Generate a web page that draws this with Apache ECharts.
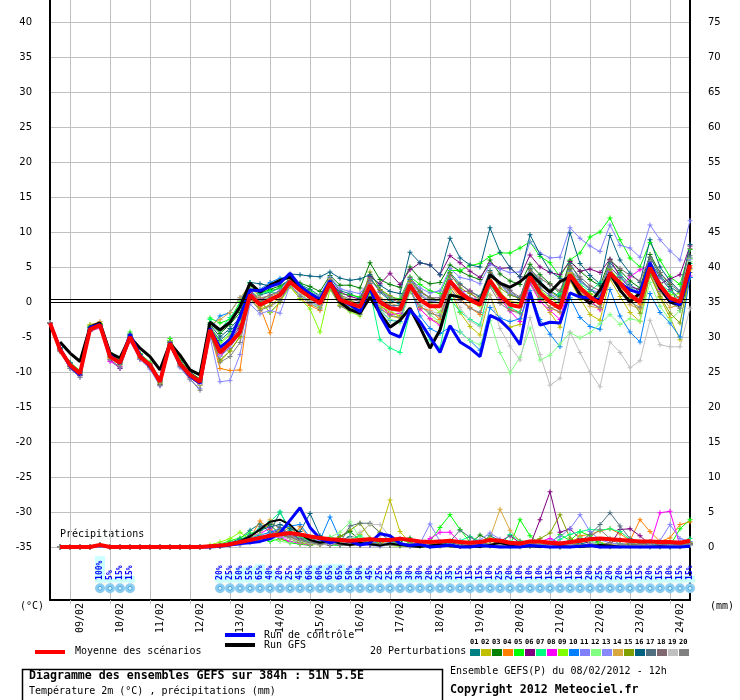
<!DOCTYPE html>
<html>
<head>
<meta charset="utf-8">
<script src="https://cdn.jsdelivr.net/npm/echarts@6/dist/echarts.min.js"></script>
<style>
  html, body { margin: 0; padding: 0; background: #fff; }
  #main { width: 740px; height: 700px; }
</style>
</head>
<body>
<div id="main"></div>
<script>
// day labels, one per day (slot 2 = 09/02 00h, run starts 08/02 12h)
const dayLabels = ["09/02", "10/02", "11/02", "12/02", "13/02", "14/02", "15/02", "16/02",
  "17/02", "18/02", "19/02", "20/02", "21/02", "22/02", "23/02", "24/02"];
const tempTicks = [-35, -30, -25, -20, -15, -10, -5, 0, 5, 10, 15, 20, 25, 30, 35, 40];
const precipTicks = [0, 5, 10, 15, 20, 25, 30, 35, 40, 45, 50, 55, 60, 65, 70, 75];

const memberColors = ["#008080", "#c0c000", "#008000", "#ff8000", "#00ff00", "#800080", "#00ff80",
  "#ff00ff", "#80ff00", "#0080ff", "#8080ff", "#80ff80", "#8888ff", "#d8a840", "#80a000",
  "#006080", "#507080", "#806870", "#c0c0c0", "#808080"];

// 2m temperature, every 6h
const tempMean = [-3, -6.8, -9, -10.2, -3.9, -3.3, -7.8, -8.7, -5, -7.8, -9, -11.4, -5.9, -8.8, -10.4, -11.4,
  -4, -7.2, -5.9, -4.3, 1, -0.4, 0.3, 1, 2.9, 1.7, 0.7, -0.2, 2.7, 0.3, -0.2, -0.7,
  2.4, 0, -0.9, -1.1, 2.4, 0.3, -0.6, -0.6, 3, 1.3, 0.3, -0.4, 3.1, 1, -0.4, -0.7,
  3.6, 1.3, 0, -0.9, 3.9, 2, 0.7, -0.2, 4.1, 2.7, 1, 0, 4.9, 2.4, 0.6, 0, 5.3];
const tempControl = [-3, -6.6, -9.2, -10.4, -3.6, -3.2, -7.6, -8.8, -4.6, -7.6, -9.2, -11.2, -5.8, -8.9, -10.6, -11.6,
  -3.8, -6.5, -5.4, -2.1, 1.7, 1.6, 2.2, 2.7, 4.1, 2.3, 1.2, 0.4, 3, 0.5, -0.4, -1.4,
  2, -1.9, -4.4, -5, -1.1, -2.8, -5, -7.2, -3.4, -5.7, -6.6, -7.8, -1.9, -2.6, -4, -6.1,
  1.4, -3.3, -2.9, -3, 1.3, 0.7, 0.6, 0.3, 4.1, 2.7, 1.7, 1.3, 5.6, 2.4, 0.3, -0.4, 4.3];
const tempGfs = [null, -5.7, -7.3, -8.5, -3.6, -3, -7.3, -8, -5, -6.6, -7.8, -9.7, -5.9, -7.6, -9.7, -10.4,
  -2.9, -4, -2.9, -0.7, 2.7, 1.4, 2.4, 3.1, 3.6, 2, 0.7, 0.3, 2.7, 0, -1.1, -1.6,
  0.7, -1.6, -3.6, -2.6, -0.9, -3.6, -6.6, -4, 1, 0.7, 0.3, 0, 3.9, 2.7, 2.1, 2.9,
  4.1, 2.7, 1.4, 2.9, 3.6, 1, -0.2, 1.7, 4.1, 1.7, 0, 1.3, 5, 2, 0, -0.4, 5.7];

const tempP01 = [-3, -6.5, -8.7, -10, -3.6, -3.5, -7.5, -8.9, -4.8, -7.6, -9.2, -11.2, -5.6, -8.6, -10.1, -11.1,
  -3.5, -5.5, -4.2, -2.6, 2.2, 1, 1.4, 2, 3.4, 2.5, 1.8, 0.9, 3.5, 1.6, 1.2, 0.5,
  3.6, 1.4, 0.2, -0.3, 3.2, 1.5, 0.6, 0.2, 4.2, 2.6, 1.5, 0.8, 4.5, 2.6, 1, 0.6,
  4.8, 3, 1.6, 0.8, 5.5, 3.2, 1.8, 0.9, 5.6, 4, 2.5, 1.4, 6.4, 3.8, 2.2, 1.2, 6.3];
const tempP02 = [-3, -7, -9.3, -10.5, -3.2, -3, -8, -9, -5.2, -8, -9.3, -11.6, -6.2, -9, -10.6, -11.8,
  -4.5, -8.5, -7, -5, 0.5, -1, -0.5, 0.6, 2.5, 1, 0.2, -0.8, 2.2, -0.3, -1, -1.6,
  1.8, -0.8, -2, -2.3, 1.6, -1, -2.4, -3, 1.8, -1.5, -3.5, -4.7, 1, -2.6, -3.6, -3.2,
  2.8, 0.2, -1.5, -3.6, 3, 0.5, -1.8, -2.6, 3.3, 0.8, -1.5, -2.8, 4, 0.6, -2.2, -5.4, 4.6];
const tempP03 = [-3, -6.6, -8.8, -10.4, -3.7, -3.4, -7.4, -8.3, -4.6, -7.4, -9.1, -11.8, -5.5, -8.4, -10, -11,
  -3, -4.5, -3.2, -1.5, 2.3, 1.2, 1.8, 2.3, 3.2, 2.7, 2.2, 1.5, 3.8, 2.4, 2.4, 2,
  5.6, 3.2, 2.5, 2.1, 5, 3.3, 2.6, 2.8, 5.3, 4.4, 3.7, 3.2, 6, 4, 3, 2.5,
  5.4, 3.9, 2.6, 1.2, 5.9, 4.4, 3.2, 2.3, 6.1, 4.5, 3, 2, 6.8, 4.2, 2.5, -1.2, 3.5];
const tempP04 = [-3, -7, -9.1, -10.2, -4.1, -3.6, -8, -8.8, -5.1, -7.9, -8.8, -11.2, -6, -8.9, -10.7, -11.6,
  -4.2, -9.5, -9.8, -9.7, 0.6, -0.7, -4.4, 0.7, 2.2, 0.5, -0.5, -1.2, 2, -0.5, -0.8, -1.3,
  1.9, -0.6, -1.5, -2, 1.5, -0.8, -1.2, -2.5, 2.5, 0.5, -0.8, -1.8, 2.6, 0.3, -1.1, -1.5,
  3.3, 0.8, -0.8, -1.5, 3.6, 1.5, 0.2, -1, 3.6, 2.2, 0.6, -0.4, 4.5, 2.2, 0.2, 0.8, 4.9];
const tempP05 = [-3, -6.6, -8.6, -9.8, -3.4, -3.1, -7.2, -8.5, -4.3, -7.4, -8.6, -11, -5.2, -8.2, -10.2, -11.2,
  -2.3, -3, -2.5, 0, 2.6, 1.5, 1.6, 2, 3.1, 2.4, 1.5, 0.8, 3, 1.2, 1, 0.7,
  3.3, 1.8, 0.6, 0.5, 3.6, 2.5, 1.6, 1.2, 4.5, 4.5, 5.2, 5.5, 6.5, 7, 7, 7.7,
  8.6, 6.5, 5.6, 3.6, 6, 7, 9.3, 10, 12, 8.9, 6.3, 5, 8.5, 6, 3.6, 2.5, 7.5];
const tempP06 = [-3, -6.9, -9.2, -10.5, -4, -3.5, -8.3, -9.5, -5.3, -7.7, -9.2, -11.5, -6, -8.7, -10.2, -11.5,
  -4.1, -7.6, -6.5, -3.8, 1.4, 0.2, -1.5, 0, 3, 1.9, 1, 0.3, 3, 1.4, 0.8, 0.4,
  3.6, 2.6, 4.1, 2.5, 4.6, 5.6, 5.3, 3.9, 6.6, 5.6, 4.4, 3.5, 5.5, 4.8, 4.9, 3.6,
  6.7, 5, 4.2, 3.9, 5.8, 4.4, 4.7, 4.2, 6.1, 3.6, 2.2, 1.8, 5.1, 2.6, 3.3, 3.9, 8];
const tempP07 = [-3, -6.7, -8.9, -10, -3.5, -3.2, -7.6, -8.6, -4.9, -7.6, -8.9, -11.1, -5.7, -8.5, -10.2, -11.2,
  -2.5, -4, -2.2, -0.5, 2.8, 1.2, 1.5, 1.2, 3.5, 2.2, 1, 0.2, 2.4, 0.2, -0.6, -1.2,
  1.5, -5.4, -6.6, -7.2, -1.5, -3, -5.4, -6.6, 0.5, -1.4, -2.5, -3.3, 2.4, 0.6, -0.8, -1.5,
  3.9, 0.5, 0.4, 1.2, 4.3, 2.6, 1.5, 2.8, 3.4, 3.8, 2, 1, 4, 2.6, 1.5, 0.4, 5.5];
const tempP08 = [-3, -6.9, -9, -10.3, -4.2, -3.7, -8.5, -9.2, -5.6, -8.2, -9.4, -11.9, -6.4, -9.1, -10.8, -11.8,
  -4.5, -7.5, -5.5, -3.5, 1.3, 0.5, 0.4, 0.9, 2.6, 1.6, 0.8, 0.5, 2.5, 0.2, -0.5, -1.4,
  2, -0.5, -1.8, -1.6, 1.9, -1, -2.4, -3.3, 2.6, 1.4, 1.6, -0.3, 2.8, 0.6, -1.3, -2.8,
  2.6, 0.1, -1.2, -2.5, 3.1, 1.9, 0.3, -1.1, 4.4, 2.1, 3.6, 4.6, 5.2, 1.8, 0.4, 0.1, 3.7];
const tempP09 = [-3, -6.6, -8.8, -10.2, -3.3, -3.1, -7.9, -8.9, -5.1, -7.8, -9.3, -11.5, -5.5, -8.6, -10.4, -11.5,
  -3.4, -5.8, -4.6, -3.2, 1.8, 0.1, -1.5, 0, 2.2, 0.5, -1, -4.3, 1.8, -0.5, -1.4, -2,
  1.2, -0.6, -1.3, -2, 2, 0.2, -0.3, -1.5, 2.8, 1.1, 0, -0.6, 3.3, 1.4, 0.1, -0.3,
  3.8, 1.7, 0.6, -0.3, 4.1, 2.3, 1.2, 0.6, 4.7, 3, 1.2, 0.4, 5.3, 2.6, 1, 1.2, 6.2];
const tempP10 = [-3, -6.5, -8.7, -10.3, -3.8, -3.4, -7.5, -8.5, -4.7, -7.5, -9.1, -11.3, -5.8, -8.8, -10.5, -11.2,
  -3.8, -2, -1.5, 0.6, 1.6, 1.8, 2.8, 3.4, 3.6, 1.8, 0.7, -0.4, 2.6, 0.5, -0.4, -1.2,
  2, -1.2, -2.6, -2.8, 2.2, -2, -3.8, -4.5, -3.6, -4.3, -5.5, -6.9, -0.8, -2.3, -2.8, -2.4,
  1.6, -2.5, -4.6, -6.4, 0.6, -2.2, -3.5, -3.9, 1.8, -2, -4.3, -5.7, 1.2, -1.5, -3, -5, 3.5];
const tempP11 = [-3, -6.8, -9.1, -10.4, -3.9, -3.4, -7.7, -8.8, -4.9, -7.7, -9, -11.5, -6, -8.7, -10.3, -11.6,
  -4.3, -7.8, -6.5, -4.5, 1.5, 0.6, 0.9, 1.7, 3.5, 2.2, 1.3, 0.9, 3.6, 1.9, 1.5, 1.2,
  3.2, 1.5, 0.7, 0.3, 3.4, 2, 1.3, 1.6, 4.8, 3.5, 3.2, 2.6, 5.4, 4.7, 4.2, 4.3,
  8.6, 7, 6.3, 6.4, 10.6, 9.1, 8, 7.2, 11, 8.1, 7.7, 6.4, 11, 8.9, 7.3, 6, 11.6];
const tempP12 = [-3, -6.8, -9, -10, -3.7, -3.3, -7.6, -8.7, -5, -7.9, -9, -11.3, -5.9, -8.9, -10.5, -11.5,
  -3.8, -6, -4.8, -2.8, 2, 0.4, 0.5, 1, 2.8, 1.3, 0.1, -0.9, 2.2, 0, -0.9, -1.6,
  1.8, -1.1, -2.5, -3, 1.4, -0.5, -1.8, -2.9, 1.6, -4.3, -5.5, -6.1, -2.6, -7.2, -10.1, -7.9,
  -3.7, -8.3, -7.6, -6, -4.4, -5.1, -4.4, -3.1, -1.8, -3.2, -2.4, -2.7, 2.8, -0.6, -2.6, -1.2, 5.8];
const tempP13 = [-3, -7, -9.5, -10.8, -4.1, -3.6, -8.2, -9.4, -5.4, -8.2, -9.6, -12, -6.3, -9.4, -11.1, -12.4,
  -5, -11.4, -11.2, -7.5, -0.3, -1.7, -1.2, -1.6, 2.4, 1, 0, -0.5, 2.4, 0.4, -0.4, -0.8,
  2.6, 0.1, -0.5, -0.9, 2.8, 1.2, 0.2, -0.1, 3.3, 1.8, 0.6, 0.2, 3.6, 2.6, 1.2, 0.5,
  4.2, 2.5, 1.2, 0.4, 4.4, 2.9, 1.8, 1.3, 5, 3.6, 2.2, 1.2, 5.6, 3.5, 1.8, 0.4, 6.1];
const tempP14 = [-3, -6.7, -8.9, -10.1, -3.3, -2.8, -7.3, -8.4, -4.6, -7.6, -8.8, -11.2, -5.7, -8.6, -10.3, -11.3,
  -3.3, -2.5, -1.5, 0.6, 2.4, 0.6, 0.8, 1.4, 3.2, 1.5, 0.6, -0.2, 3.3, 0.6, 0.1, -0.6,
  2.7, 0.6, -0.2, -0.6, 2.6, 0.6, -0.3, -0.3, 3.3, 1.5, 0.6, -0.3, 3.4, 1.2, 0.1, -0.1,
  3.5, 1.6, -1.1, -0.4, 4.2, 1.7, -0.6, -0.9, 3.9, 2, -0.4, -1, 4.5, 1, -0.8, -0.4, 5.2];
const tempP15 = [-3, -6.8, -9, -10.1, -3.6, -3.2, -7.9, -8.8, -5.1, -8, -9.2, -11.6, -6.1, -9, -10.7, -11.9,
  -4.6, -8.3, -7, -4.9, 0.6, -0.6, 0, 1, 2.8, 1.8, 0.6, -0.4, 2.7, 0.8, 0.2, -0.3,
  4.3, 1.8, 0.9, 0.2, 3, 1.4, 0.6, 0.2, 4.1, 2, 1.2, 0.4, 4.2, 2, 1, 0.5,
  4.6, 2.5, 1.5, 0.6, 4.8, 2.2, 1.1, -0.4, 4.6, 2.8, 0.6, -1.6, 3.8, 0.8, -1.6, -3, 4.2];
const tempP16 = [-3, -6.6, -8.7, -10, -3.6, -3.3, -7.4, -8.5, -4.6, -7.5, -8.9, -11.1, -5.7, -8.6, -10.2, -11.3,
  -3.2, -5, -3.8, -2.2, 2.8, 2.6, 2.3, 2.8, 4, 3.9, 3.7, 3.6, 4.3, 3.4, 3.1, 3.3,
  3.9, 2.4, 1.5, 1.2, 7.1, 5.6, 5.3, 3.9, 9.1, 6.3, 5.3, 5, 10.6, 7.1, 4.9, 3.6,
  9.6, 6.8, 4.4, 3.4, 9.9, 5.5, 3.8, 2.6, 9.5, 6, 4.1, 2.8, 8.9, 5, 3, 1.5, 8.2];
const tempP17 = [-3, -6.9, -9.2, -10.4, -4, -3.4, -7.9, -8.9, -5.2, -7.9, -9.1, -11.4, -6, -8.9, -10.5, -11.5,
  -4, -7, -5.5, -3.6, 1.2, 0, 0.6, 1.2, 3, 2, 1, 0.3, 2.9, 0.6, 0, -0.3,
  2.6, 0.4, -0.5, -0.5, 2.4, 0.9, 0.1, 0.3, 3.2, 1.6, 0.6, 0.2, 3.7, 2.6, 1.7, 0.2,
  4, 2, 0.9, 0.1, 4.6, 3.2, 1.8, 0.6, 5, 3.5, 2, 0.7, 5.8, 3.6, 1.8, 0.4, 6.6];
const tempP18 = [-3, -6.8, -9, -10.2, -3.9, -3.3, -7.8, -8.7, -5, -7.7, -8.9, -11.3, -5.8, -8.7, -10.3, -11.3,
  -3.7, -6.6, -5, -3.4, 1.6, 0.3, 1, 1.5, 3, 2, 1.2, 0.4, 3, 1, 0.4, 0.1,
  3.3, 1.6, 0.4, 0, 3.5, 1.6, 0.6, 0.6, 3.8, 2.5, 1.6, 0.6, 4.3, 2.5, 1.6, 0.7,
  4.6, 3.4, 2.5, 1.6, 5.2, 3.6, 2.3, 1.6, 5.9, 4.8, 3.8, 3, 6.4, 4.2, 2.6, 1.4, 7.6];
const tempP19 = [-3, -6.9, -9.1, -10.3, -3.9, -3.4, -7.7, -8.8, -5, -7.8, -9, -11.4, -6, -8.9, -10.6, -11.8,
  -4.2, -7.6, -6.2, -4.5, 0.9, -0.4, 0.3, 0.9, 2.7, 1.5, 0.5, -0.3, 2.6, 0.2, -0.4, -0.9,
  2.2, -0.3, -1.2, -1.4, 2.1, -0.1, -1.3, -1.7, 2.2, -0.8, -2.7, -3.5, 0.9, -3.8, -6.3, -8.3,
  -2.2, -7.5, -11.9, -10.9, -4.3, -7.2, -10, -12.1, -5.7, -7.2, -9.4, -8.4, -2.6, -6.1, -6.4, -6.4, -0.9];
const tempP20 = [-3, -7.1, -9.5, -10.7, -4.2, -3.6, -8.2, -9.3, -5.5, -8.1, -9.4, -11.9, -6.3, -9.2, -11, -12.6,
  -4.6, -8.6, -7.8, -5.8, 0.4, -1.2, -0.6, 0.2, 2.4, 0.8, -0.2, -1, 2, -0.6, -1.2, -1.8,
  1.8, -1, -1.9, -2.2, 1.6, -0.6, -1.6, -2, 2, 0.2, -0.9, -1.5, 2.2, -0.2, -1.2, -1.6,
  2.8, 0.6, -0.8, -1.4, 3.2, 1.2, -0.2, -0.8, 3.5, 1.6, 0, -0.8, 4.2, 1.5, -0.1, -0.9, 4.8];

// precipitation (mm / 6h); first 16 slots are shared, members differ afterwards
const precipEarly = [null, 0, 0, 0, 0, 0.3, 0, 0, 0, 0, 0, 0, 0, 0, 0, 0];
const precipMean = [null, 0, 0, 0, 0, 0.3, 0, 0, 0, 0, 0, 0, 0, 0, 0, 0,
  0.1, 0.2, 0.4, 0.7, 1, 1.3, 1.6, 1.8, 2, 1.8, 1.5, 1.3, 1.1, 1, 0.9, 1,
  1.1, 1, 1, 1.2, 1, 0.8, 0.7, 0.8, 0.9, 0.7, 0.6, 0.7, 1, 0.9, 0.6, 0.5,
  0.8, 0.8, 0.6, 0.5, 0.7, 0.9, 1.1, 1.2, 1.1, 1, 0.9, 0.8, 0.8, 0.7, 0.7, 0.6, 0.9];
const precipControl = [null, 0, 0, 0, 0, 0.2, 0, 0, 0, 0, 0, 0, 0, 0, 0, 0,
  0, 0.1, 0.3, 0.5, 0.6, 0.8, 1.2, 2, 3.8, 5.6, 2.8, 1.2, 0.6, 1, 0.8, 0.3,
  0.6, 1.9, 1.6, 0.5, 0.2, 0.4, 0, 0.1, 0.3, 0, 0, 0.2, 0.1, 0, 0, 0,
  0.2, 0.1, 0, 0, 0, 0.1, 0.2, 0, 0, 0, 0, 0, 0, 0, 0, 0, 0.1];
const precipGfs = [null, 0, 0, 0, 0, 0.3, 0, 0, 0, 0, 0, 0, 0, 0, 0, 0,
  0, 0.2, 0.5, 0.8, 1.5, 2.5, 3.6, 3.9, 3.2, 1.8, 1, 0.6, 0.9, 0.5, 0.3, 0.6,
  0.4, 0.2, 0.5, 0.3, 0.1, 0, 0.2, 0.4, 0.1, 0, 0.1, 0, 0.3, 0.6, 0.2, 0,
  0.1, 0, 0, 0.1, 0, 0, 0.1, 0.3, 0.2, 0, 0, 0, 0, 0.1, 0, 0, 0];

const precipP01 = [0, 0.3, 0.6, 1.2, 2.4, 3.3, 2.1, 5, 2.4, 1, 1.4, 0.6, 0.3, 0.9, 1.5, 0.4,
  0.2, 0.5, 1.1, 0.6, 0.3, 0.1, 0.4, 0.2, 0.6, 0.3, 0.8, 0.5, 1.6, 0.9, 0.2, 0.1,
  0.3, 0.5, 0.2, 0, 0.1, 0.4, 0.8, 0.5, 0.3, 0.2, 0.1, 0.5, 0.3, 0.2, 0, 0.1, 0.3];
const precipP02 = [0, 0.1, 0.2, 0.5, 0.8, 1.2, 1.6, 2, 2.8, 1.5, 0.8, 0.5, 1.2, 0.6, 0.4, 1.8,
  3.3, 2.1, 6.7, 2.2, 0.6, 0.3, 0.1, 0.2, 0.4, 0.1, 0, 0.3, 0.5, 0.2, 0.1, 0,
  0.2, 0.1, 0, 0.3, 0.2, 1.5, 0.4, 0.1, 0, 0.2, 0.6, 0.3, 0, 0.1, 0.2, 0, 0.4];
const precipP03 = [0, 0.2, 0.3, 0.6, 1.5, 2.4, 3.2, 1.8, 1.2, 0.6, 0.4, 0.8, 0.5, 1.5, 2.2, 1,
  0.6, 0.4, 0.2, 0.8, 1.3, 0.5, 0.3, 0.6, 0.4, 0.2, 0.5, 1.7, 0.9, 0.4, 0.2, 0.1,
  0.6, 0.3, 0.1, 0, 0.2, 0.9, 1.2, 0.6, 0.2, 0.1, 0.3, 0.2, 0.1, 0, 0, 0.2, 0.5];
const precipP04 = [0, 0.1, 0.4, 0.9, 1.3, 3.7, 2.5, 1.1, 0.8, 2.9, 1.2, 0.4, 0.3, 0.6, 0.5, 0.2,
  0.4, 0.8, 0.3, 0.2, 0.6, 0.3, 0.1, 0.4, 0.2, 0.1, 0.2, 0.6, 0.3, 0.2, 0.5, 0.2,
  0.1, 0.3, 0.2, 0.1, 0.4, 1.6, 1.8, 2.3, 2.6, 1.9, 0.9, 3.9, 2.2, 0.8, 1.3, 3.2, 3.6];
const precipP05 = [0, 0.4, 0.9, 1.3, 2, 1.4, 0.8, 1.2, 0.6, 0.4, 0.2, 0.5, 0.3, 0.2, 0.6, 0.4,
  0.3, 0.2, 0.4, 1.1, 0.6, 0.3, 0.8, 2.8, 4.6, 2.5, 0.7, 0.6, 1.2, 0.4, 0.2, 3.9,
  1.6, 0.4, 0.5, 1.8, 0.9, 2.2, 1.6, 0.6, 0.3, 0.5, 0.2, 0.4, 0.3, 0.6, 0.2, 2.6, 3.9];
const precipP06 = [0, 0.1, 0.2, 0.4, 0.9, 1.2, 1.8, 2.5, 1.9, 1.2, 0.7, 0.4, 0.3, 0.5, 0.4, 0.2,
  0.3, 0.2, 0.5, 0.3, 0.1, 0.2, 0.1, 0.3, 0.2, 0.1, 0.4, 0.2, 0.3, 0.8, 1.6, 0.6,
  0.2, 3.9, 7.9, 2.1, 2.6, 1.2, 0.4, 0.3, 0.2, 2.5, 2.6, 1.6, 0.3, 0.4, 0.2, 0.1, 0.3];
const precipP07 = [0, 0.2, 0.5, 1, 1.8, 2.6, 3.6, 5, 2.3, 1.4, 0.9, 0.6, 1.4, 1.1, 1.1, 1.6,
  0.8, 0.5, 0.3, 0.2, 0.5, 0.3, 0.2, 0.4, 0.6, 0.9, 1.5, 0.8, 0.3, 0.2, 1.8, 0.9,
  0.6, 0.4, 0.2, 1.1, 1.8, 2.2, 2.5, 2.4, 2.6, 2.2, 1.1, 0.4, 0.5, 0.2, 0.3, 0.6, 1.2];
const precipP08 = [0, 0.1, 0.3, 0.8, 1.6, 1.9, 2.7, 1.4, 0.8, 0.5, 0.3, 1, 0.6, 0.4, 0.3, 0.2,
  0.3, 0.5, 0.2, 0.4, 0.3, 0.2, 1.2, 2.1, 2.1, 0.7, 0.4, 0.3, 0.2, 0.1, 0.2, 0.4,
  0.3, 0.8, 1.2, 0.6, 0.9, 0.4, 0.2, 0.1, 0.3, 0.2, 0.1, 0.4, 0.3, 4.9, 5.1, 0.2, 0.5];
const precipP09 = [0.3, 0.7, 1.2, 2.1, 1, 0.9, 1.4, 2.4, 1.2, 0.6, 0.4, 0.3, 0.8, 0.4, 0.2, 0.3,
  0.6, 0.4, 0.2, 0.1, 0.3, 0.2, 0.4, 0.6, 0.3, 0.2, 0.1, 0.2, 0.4, 0.3, 0.2, 0.1,
  0.2, 0.5, 0.8, 0.3, 0.2, 0.1, 0.3, 0.6, 0.4, 0.2, 0.1, 0.3, 0.2, 0.1, 0.2, 0.4, 0.8];
const precipP10 = [0, 0.2, 0.4, 0.9, 1.3, 1.7, 2.1, 2.6, 3, 3.2, 1.4, 1, 4.3, 1.1, 0.7, 0.6,
  0.4, 0.9, 0.6, 0.3, 0.2, 0.4, 0.1, 0.2, 0.5, 0.2, 0.1, 0.3, 0.2, 0.4, 0.6, 0.2,
  0.1, 0.3, 0.2, 0.5, 0.8, 0.4, 0.3, 0.1, 0.2, 0.4, 0.3, 0.1, 0, 0.2, 0.1, 0.3, 0.5];
const precipP11 = [0, 0.1, 0.3, 0.6, 1.1, 1.4, 1.9, 2.2, 1.6, 1.1, 0.7, 0.5, 0.9, 0.4, 0.3, 0.5,
  0.7, 0.4, 0.6, 1.2, 0.9, 0.5, 3.3, 0.8, 0.4, 0.6, 0.8, 1, 2, 1.1, 0.5, 0.3,
  0.4, 0.6, 0.8, 1.5, 2.6, 4.6, 2.2, 1, 0.6, 0.4, 0.5, 0.7, 0.4, 0.9, 3.2, 1.2, 0.8];
const precipP12 = [0, 0.3, 0.5, 0.9, 1.4, 1.9, 1.2, 0.8, 0.6, 1, 0.7, 0.5, 1.4, 2.1, 3.6, 1.3,
  0.6, 0.4, 0.3, 0.5, 0.2, 0.4, 0.3, 0.2, 0.9, 0.5, 0.3, 0.4, 0.2, 0.1, 0.3, 0.2,
  0.2, 0.4, 0.6, 0.3, 0.2, 1.4, 0.8, 0.4, 0.3, 0.2, 0.6, 0.4, 0.2, 0.1, 0.3, 0.5, 0.6];
const precipP13 = [0, 0.1, 0.2, 0.3, 0.6, 0.9, 1.1, 1.5, 1.2, 0.8, 0.5, 0.6, 0.4, 0.3, 0.2, 0.3,
  0.2, 0.1, 0.3, 0.2, 0.4, 0.2, 0.1, 0.3, 0.2, 0.4, 0.2, 0.1, 0.2, 0.3, 0.2, 0.1,
  0.3, 0.2, 0.1, 0.2, 0.4, 0.2, 0.5, 0.3, 0.2, 0.4, 0.6, 0.2, 0.1, 0.2, 0.4, 0.2, 0.3];
const precipP14 = [0, 0.2, 0.4, 0.7, 1.5, 2.3, 3.9, 2.4, 1.2, 0.8, 0.5, 0.3, 0.6, 0.4, 0.3, 0.2,
  0.5, 1.2, 0.4, 0.2, 0.3, 0.6, 0.4, 0.3, 0.5, 0.6, 0.4, 0.8, 1.3, 5.4, 2.4, 0.8,
  0.4, 0.2, 0.3, 0.5, 0.6, 0.4, 0.2, 0.3, 0.4, 0.3, 0.6, 0.2, 0.1, 0.3, 0.4, 0.2, 0.5];
const precipP15 = [0, 0.1, 0.3, 0.5, 0.9, 1.2, 1.8, 2.2, 1.4, 0.9, 0.6, 0.4, 0.9, 1.5, 2.4, 3.4,
  1.3, 0.5, 0.3, 0.2, 0.4, 0.2, 0.3, 0.1, 0.2, 0.4, 0.3, 0.2, 0.1, 0.3, 0.2, 0.4,
  0.6, 1.2, 2, 4.6, 1.3, 0.4, 0.2, 0.3, 0.1, 0.2, 0.4, 0.3, 0.2, 0.1, 0.2, 0.3, 0.6];
const precipP16 = [0, 0.2, 0.5, 1, 1.6, 2.4, 2.9, 3.2, 2.6, 2.2, 4.8, 1.6, 0.9, 0.6, 0.4, 0.3,
  0.5, 0.4, 0.3, 0.2, 0.4, 0.3, 0.2, 0.4, 0.6, 0.3, 0.2, 0.4, 0.3, 0.2, 0.1, 0.2,
  0.3, 0.2, 0.4, 0.3, 0.2, 0.5, 0.3, 0.2, 0.1, 0.3, 0.2, 0.1, 0.3, 0.2, 0.1, 0.2, 0.4];
const precipP17 = [0, 0.2, 0.4, 0.8, 1.4, 2.9, 3.4, 2.8, 1.9, 1.1, 0.7, 0.5, 0.9, 0.6, 3, 3.4,
  3.4, 2, 0.9, 0.5, 0.4, 0.3, 0.2, 0.5, 0.8, 2.4, 1.4, 0.6, 0.4, 0.3, 0.5, 0.2,
  0.3, 0.2, 0.4, 0.3, 0.5, 0.8, 1.8, 3.2, 4.9, 3, 1.2, 0.6, 0.3, 0.2, 0.4, 0.3, 0.4];
const precipP18 = [0, 0.1, 0.2, 0.5, 0.8, 1.3, 1.6, 1.9, 1.3, 0.8, 0.5, 0.4, 0.6, 0.3, 0.2, 0.4,
  0.6, 0.4, 0.2, 0.3, 0.5, 0.3, 0.2, 0.4, 0.3, 0.2, 0.4, 0.6, 0.3, 0.2, 0.5, 0.8,
  0.6, 0.3, 0.2, 0.4, 0.3, 0.2, 0.4, 0.3, 0.6, 1.1, 0.5, 0.3, 0.8, 0.4, 0.2, 0.3, 0.5];
const precipP19 = [0, 0.1, 0.2, 0.4, 0.7, 1, 1.3, 1.6, 1.2, 0.8, 0.5, 0.3, 0.4, 0.6, 1.2, 2.1,
  3.2, 3.2, 1.4, 0.6, 0.3, 0.2, 0.4, 0.3, 0.2, 0.5, 0.3, 0.2, 0.4, 0.3, 0.2, 0.1,
  0.2, 0.3, 0.2, 0.4, 0.3, 0.2, 0.1, 0.3, 0.2, 0.4, 0.2, 0.1, 0.3, 0.2, 0.1, 0.2, 0.3];
const precipP20 = [0, 0.1, 0.3, 0.6, 1, 1.4, 1.7, 2, 1.5, 1, 0.6, 0.4, 0.5, 0.3, 0.2, 0.3,
  0.4, 0.3, 0.2, 0.3, 0.5, 0.3, 0.2, 0.4, 0.3, 0.2, 0.3, 0.5, 0.3, 0.2, 0.4, 0.3,
  0.2, 0.3, 0.5, 0.3, 0.2, 0.6, 1.4, 2.5, 1.2, 0.4, 0.2, 0.3, 0.2, 0.1, 0.3, 0.2, 0.4];

// probability of precipitation (%) per slot, null = no label
const precipProb = [null, null, null, null, null, 100, 5, 15, 15, null, null, null, null, null, null, null,
  null, 20, 25, 50, 55, 65, 40, 20, 25, 45, 60, 60, 65, 65, 50, 50,
  45, 25, 25, 30, 30, 30, 20, 25, 35, 15, 15, 15, 10, 25, 20, 10,
  10, 10, 15, 10, 15, 10, 20, 25, 20, 20, 15, 15, 20, 15, 10, 15, 15];

const tempMembers = [tempP01, tempP02, tempP03, tempP04, tempP05, tempP06, tempP07, tempP08, tempP09, tempP10,
  tempP11, tempP12, tempP13, tempP14, tempP15, tempP16, tempP17, tempP18, tempP19, tempP20];
const precipMembers = [precipP01, precipP02, precipP03, precipP04, precipP05, precipP06, precipP07, precipP08,
  precipP09, precipP10, precipP11, precipP12, precipP13, precipP14, precipP15, precipP16, precipP17,
  precipP18, precipP19, precipP20];

document.addEventListener("DOMContentLoaded", function () {
  const chart = echarts.init(document.getElementById("main"), null, { renderer: "canvas" });

  const tempMin = -42.57;
  const tempMax = 43.14;
  const mono = "DejaVu Sans Mono";
  const slots = tempMean.map((v, i) => String(i * 6));
  const plus = "path://M2 0h1v2h2v1h-2v2h-1v-2h-2v-1h2z";

  function line(name, data, color, width, yAxisIndex, withMarks, z) {
    return {
      name: name,
      type: "line",
      data: data,
      yAxisIndex: yAxisIndex,
      symbol: withMarks ? plus : "none",
      symbolSize: 5,
      showSymbol: withMarks,
      itemStyle: { color: color },
      lineStyle: { color: color, width: width },
      connectNulls: false,
      silent: true,
      z: z
    };
  }

  const series = [];
  tempMembers.forEach((d, k) => {
    series.push(line("P" + (k + 1), d, memberColors[k], 1, 0, true, 2));
  });
  precipMembers.forEach((d, k) => {
    series.push(line("RR" + (k + 1), precipEarly.concat(d), memberColors[k], 1, 1, true, 2));
  });
  series.push(line("GFS", tempGfs, "#000000", 3, 0, false, 3));
  series.push(line("Contrôle", tempControl, "#0000ff", 3, 0, false, 4));
  series.push(line("Moyenne", tempMean, "#ff0000", 4, 0, false, 5));
  series.push(line("RR GFS", precipGfs, "#000000", 2, 1, false, 3));
  series.push(line("RR Contrôle", precipControl, "#0000ff", 3, 1, false, 4));
  series.push(line("RR Moyenne", precipMean, "#ff0000", 4, 1, false, 5));

  // 0 °C double line
  series[0].markLine = {
    silent: true,
    symbol: "none",
    label: { show: false },
    lineStyle: { color: "#000", width: 1, type: "solid" },
    data: [{ yAxis: 0 }, { yAxis: 0.43 }]
  };

  // probability of precipitation strip
  series.push({
    type: "custom",
    yAxisIndex: 0,
    silent: true,
    z: 6,
    data: precipProb.map((p, i) => [i, p]).filter((d) => d[1] !== null),
    renderItem: function (params, api) {
      const i = api.value(0);
      const p = api.value(1);
      const base = api.coord([i, -40.1]);
      const top = api.coord([i, -39.6 + p * 0.033]);
      const flake = api.coord([i, -40.9]);
      const textPos = api.coord([i, -39.7]);
      return {
        type: "group",
        children: [
          { type: "rect", shape: { x: base[0] - 5, y: top[1], width: 10, height: base[1] - top[1] },
            style: { fill: "#ccffff" } },
          { type: "circle", shape: { cx: flake[0], cy: flake[1], r: 5 },
            style: { fill: "#8ccdf0" } },
          { type: "circle", shape: { cx: flake[0], cy: flake[1], r: 2 },
            style: { fill: "#d8f2ff", stroke: "#4aa8e0", lineWidth: 1 } },
          { type: "text", x: textPos[0], y: textPos[1], rotation: Math.PI / 2,
            style: { text: p + "%", fill: "#0000ff", font: "bold 8px " + mono,
              align: "left", verticalAlign: "middle" } }
        ]
      };
    }
  });

  const graphics = [
    { type: "text", left: 20, top: 601, style: { text: "(°C)", font: "10px " + mono, fill: "#000" } },
    { type: "text", left: 710, top: 601, style: { text: "(mm)", font: "10px " + mono, fill: "#000" } },
    { type: "text", left: 60, top: 529, style: { text: "Précipitations", font: "10px " + mono, fill: "#000" } },
    { type: "rect", left: 225, top: 633, shape: { width: 30, height: 4 }, style: { fill: "#0000ff" } },
    { type: "rect", left: 225, top: 643, shape: { width: 30, height: 4 }, style: { fill: "#000" } },
    { type: "text", left: 264, top: 630, style: { text: "Run de contrôle", font: "10px " + mono, fill: "#000" } },
    { type: "text", left: 264, top: 640, style: { text: "Run GFS", font: "10px " + mono, fill: "#000" } },
    { type: "rect", left: 35, top: 650, shape: { width: 30, height: 4 }, style: { fill: "#ff0000" } },
    { type: "text", left: 75, top: 646, style: { text: "Moyenne des scénarios", font: "10px " + mono, fill: "#000" } },
    { type: "text", left: 370, top: 646, style: { text: "20 Perturbations", font: "10px " + mono, fill: "#000" } },
    { type: "rect", left: 20, top: 667, shape: { width: 420, height: 32 },
      style: { fill: "none", stroke: "#000", lineWidth: 1.5 } },
    { type: "text", left: 29, top: 670, style: { text: "Diagramme des ensembles GEFS sur 384h : 51N 5.5E",
      font: "bold 11.6px " + mono, fill: "#000" } },
    { type: "text", left: 29, top: 686, style: { text: "Température 2m (°C) , précipitations (mm)",
      font: "10px " + mono, fill: "#000" } },
    { type: "text", left: 450, top: 666, style: { text: "Ensemble GEFS(P) du 08/02/2012 - 12h",
      font: "10px " + mono, fill: "#000" } },
    { type: "text", left: 450, top: 684, style: { text: "Copyright 2012 Meteociel.fr",
      font: "bold 11.6px " + mono, fill: "#000" } }
  ];
  memberColors.forEach((c, k) => {
    graphics.push({ type: "rect", left: 470 + k * 11, top: 649, shape: { width: 10, height: 7 }, style: { fill: c } });
    graphics.push({ type: "text", left: 470 + k * 11, top: 639,
      style: { text: String(k + 1).padStart(2, "0"), font: "bold 7px " + mono, fill: "#000" } });
  });

  const option = {
    animation: false,
    backgroundColor: "#fff",
    grid: { left: 50, right: 50, top: 0, bottom: 100, containLabel: false },
    xAxis: {
      type: "category",
      data: slots,
      boundaryGap: false,
      axisLine: { show: true, onZero: false, lineStyle: { color: "#000", width: 2 } },
      axisTick: { show: true, length: 4, interval: (i) => i % 4 === 2, lineStyle: { color: "#c0c0c0" } },
      splitLine: { show: true, interval: (i) => i % 4 === 2, lineStyle: { color: "#c0c0c0", width: 1 } },
      axisLabel: {
        // each date sits just after its midnight gridline
        interval: (i) => i % 4 === 3,
        rotate: 90,
        margin: 3,
        color: "#000",
        fontFamily: mono,
        fontSize: 10,
        formatter: (v) => dayLabels[(Number(v) / 6 - 3) / 4] || ""
      }
    },
    yAxis: [
      {
        type: "value",
        position: "left",
        min: tempMin,
        max: tempMax,
        axisLine: { show: true, lineStyle: { color: "#000", width: 2 } },
        axisTick: { show: false, customValues: tempTicks },
        splitLine: { show: true, lineStyle: { color: "#c0c0c0", width: 1 } },
        axisLabel: { customValues: tempTicks, margin: 18, color: "#000", fontFamily: "DejaVu Sans", fontSize: 10 }
      },
      {
        type: "value",
        position: "right",
        min: tempMin + 35,
        max: tempMax + 35,
        axisLine: { show: true, lineStyle: { color: "#000", width: 2 } },
        axisTick: { show: false, customValues: precipTicks },
        splitLine: { show: false },
        axisLabel: { customValues: precipTicks, margin: 18, color: "#000", fontFamily: "DejaVu Sans", fontSize: 10 }
      }
    ],
    graphic: graphics,
    series: series
  };

  chart.setOption(option);
});
</script>
</body>
</html>
